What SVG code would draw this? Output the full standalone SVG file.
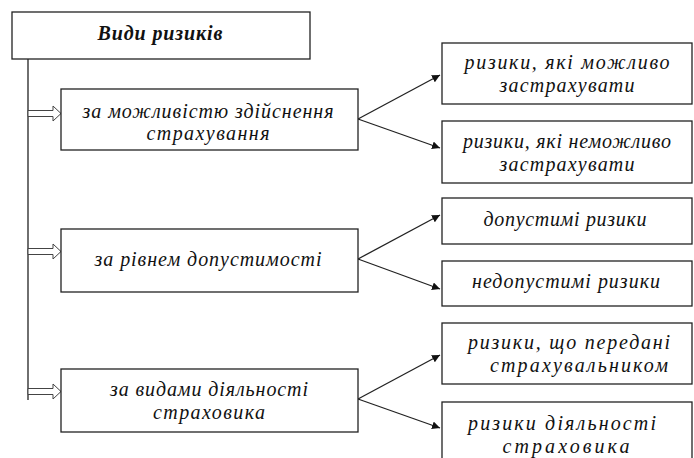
<svg xmlns="http://www.w3.org/2000/svg" width="694" height="458" viewBox="0 0 694 458">
<defs>
<style>
.box{fill:#fff;stroke:#222;stroke-width:1.3}
.t{font-family:"Liberation Serif","DejaVu Serif",serif;font-style:italic;font-size:20px;fill:#111;text-anchor:middle}
.title{font-weight:bold}
.ln{stroke:#222;stroke-width:1.3;fill:none}
.ha{fill:#fff;stroke:#444;stroke-width:1}
</style>
<marker id="ah" viewBox="0 0 10 10" refX="10" refY="5" markerWidth="8" markerHeight="8" markerUnits="userSpaceOnUse" orient="auto">
<path d="M0,0 L10,5 L0,10 z" fill="#111"/>
</marker>
</defs>
<g id="connectors">
<line class="ln" x1="28" y1="58" x2="28" y2="400"/>
<path class="ha" d="M28,110.5 H53 V106 L61,113.5 L53,121 V116.5 H28 z"/>
<path class="ha" d="M28,248.5 H53 V244 L61,251.5 L53,259 V254.5 H28 z"/>
<path class="ha" d="M28,388.5 H53 V384 L61,391.5 L53,399 V394.5 H28 z"/>
<line class="ln" x1="358" y1="119" x2="440" y2="75" marker-end="url(#ah)"/>
<line class="ln" x1="358" y1="119" x2="440" y2="148" marker-end="url(#ah)"/>
<line class="ln" x1="358" y1="259" x2="440" y2="215" marker-end="url(#ah)"/>
<line class="ln" x1="358" y1="259" x2="440" y2="289" marker-end="url(#ah)"/>
<line class="ln" x1="358" y1="399" x2="440" y2="355" marker-end="url(#ah)"/>
<line class="ln" x1="358" y1="399" x2="440" y2="428" marker-end="url(#ah)"/>
</g>
<g id="root">
<rect class="box" x="12" y="12" width="298" height="47"/>
<text class="t title" x="160" y="40" textLength="125">Види ризиків</text>
</g>
<g id="n1">
<rect class="box" x="61" y="89" width="297" height="61"/>
<text class="t" x="208" y="118" textLength="251">за можливістю здійснення</text>
<text class="t" x="208" y="140" textLength="123">страхування</text>
</g>
<g id="n2">
<rect class="box" x="61" y="229" width="297" height="63"/>
<text class="t" x="208" y="266" textLength="227">за рівнем допустимості</text>
</g>
<g id="n3">
<rect class="box" x="61" y="369" width="297" height="63"/>
<text class="t" x="209" y="396" textLength="198">за видами діяльності</text>
<text class="t" x="209" y="419" textLength="112">страховика</text>
</g>
<g id="r1">
<rect class="box" x="442" y="43" width="250" height="61"/>
<text class="t" x="567" y="69" textLength="205">ризики, які можливо</text>
<text class="t" x="567" y="92" textLength="135">застрахувати</text>
</g>
<g id="r2">
<rect class="box" x="442" y="121" width="250" height="62"/>
<text class="t" x="567" y="148" textLength="208">ризики, які неможливо</text>
<text class="t" x="567" y="171" textLength="135">застрахувати</text>
</g>
<g id="r3">
<rect class="box" x="442" y="198" width="250" height="46"/>
<text class="t" x="565" y="226" textLength="163">допустимі ризики</text>
</g>
<g id="r4">
<rect class="box" x="442" y="261" width="250" height="45"/>
<text class="t" x="566" y="288" textLength="188">недопустимі ризики</text>
</g>
<g id="r5">
<rect class="box" x="442" y="323" width="250" height="61"/>
<text class="t" x="569" y="349" textLength="202">ризики, що передані</text>
<text class="t" x="579" y="372" textLength="178">страхувальником</text>
</g>
<g id="r6">
<rect class="box" x="442" y="402" width="250" height="60"/>
<text class="t" x="562" y="430" textLength="188">ризики діяльності</text>
<text class="t" x="566" y="453" textLength="127">страховика</text>
</g>
</svg>
